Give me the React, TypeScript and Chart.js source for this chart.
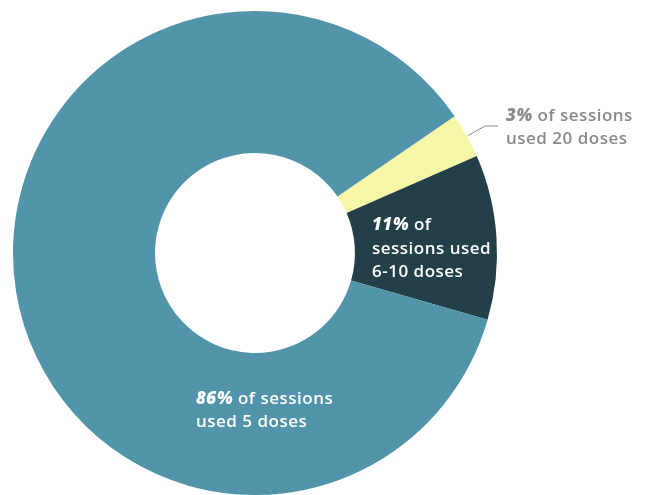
import React, { useEffect, useRef } from "react";
import { Chart, registerables } from "chart.js";

Chart.register(...registerables);

const categories = ["20 doses", "6-10 doses", "5 doses"];
const shares = [3, 11, 86];
const colors = ["#F5F6A6", "#233F48", "#5294AA"];

const FONT = "'Open Sans', sans-serif";

const labelPlugin = {
  id: "labels",
  afterDraw(chart: any) {
    const ctx = chart.ctx as CanvasRenderingContext2D;
    const arcs = chart.getDatasetMeta(0).data;
    ctx.save();
    ctx.textBaseline = "middle";
    ctx.textAlign = "left";
    (ctx as any).letterSpacing = "0.5px";
    const drawLine = (x: number, y: number, parts: [string, boolean][], color: string) => {
      let cx = x;
      for (const [t, b] of parts) {
        ctx.font = b ? `italic 800 17px ${FONT}` : `600 17px ${FONT}`;
        ctx.fillStyle = color;
        ctx.fillText(t, cx, y);
        cx += ctx.measureText(t).width;
      }
    };
    // leader line for the small slice
    const a: any = arcs[0];
    const mid = (a.startAngle + a.endAngle) / 2;
    const sx = a.x + Math.cos(mid) * a.outerRadius;
    const sy = a.y + Math.sin(mid) * a.outerRadius;
    ctx.strokeStyle = "#8a8a8a";
    ctx.lineWidth = 1;
    ctx.beginPath();
    ctx.moveTo(sx + 1, sy);
    ctx.lineTo(485, 126);
    ctx.lineTo(498, 126);
    ctx.stroke();

    const gray = "#8a8a8a";
    drawLine(506, 116, [[shares[0] + "%", true], [" of sessions", false]], gray);
    drawLine(506, 139, [["used " + categories[0], false]], gray);

    drawLine(372, 225, [[shares[1] + "%", true], [" of", false]], "#ffffff");
    drawLine(372, 249, [["sessions used", false]], "#ffffff");
    drawLine(372, 272, [[categories[1], false]], "#ffffff");

    drawLine(196, 399, [[shares[2] + "%", true], [" of sessions", false]], "#ffffff");
    drawLine(196, 422, [["used " + categories[2], false]], "#ffffff");
    ctx.restore();
  },
};

export default function App() {
  const ref = useRef<HTMLCanvasElement>(null);
  useEffect(() => {
    const chart = new Chart(ref.current!, {
      type: "doughnut",
      data: {
        labels: categories,
        datasets: [
          {
            data: shares,
            backgroundColor: colors,
            borderWidth: 0,
          },
        ],
      },
      options: {
        animation: false,
        responsive: false,
        rotation: 55.6,
        cutout: "41.3%",
        layout: { padding: { left: 13, right: 149, top: 11, bottom: 0 } },
        plugins: { legend: { display: false }, tooltip: { enabled: false } },
      },
      plugins: [labelPlugin],
    });
    return () => chart.destroy();
  }, []);
  return (
    <div style={{ position: "fixed", left: 0, top: 0, width: 646, height: 495, background: "#fff" }}>
      <canvas ref={ref} width={646} height={495} style={{ width: 646, height: 495 }} />
    </div>
  );
}
